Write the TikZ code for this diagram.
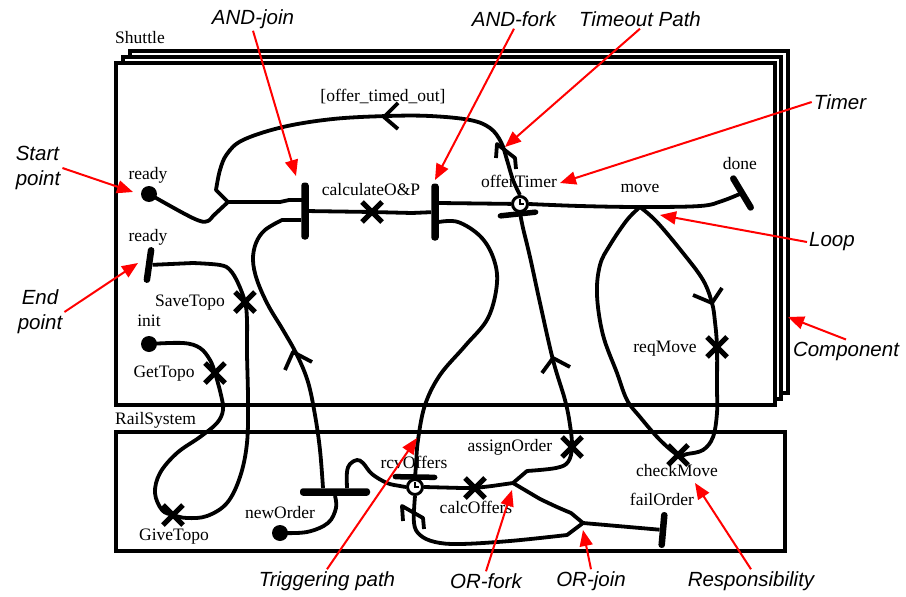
\documentclass[tikz,border=0pt]{standalone}
\usepackage{fontspec}
\setmainfont{Liberation Serif}
\newfontfamily\notefont{Liberation Sans}
\usetikzlibrary{arrows.meta,shapes.misc,positioning}

\begin{document}
\begin{tikzpicture}[x=1pt,y=-1pt,
    comp/.style={draw,line width=3.4pt,fill=white},
    ucm/.style={line width=3.8pt,line join=round},
    bar/.style={fill,inner sep=0pt,rounded corners=3pt},
    resp/.style={draw,cross out,line width=5pt,minimum size=15pt,inner sep=0pt},
    startpt/.style={circle,fill,minimum size=16pt,inner sep=0pt},
    timer/.style={circle,draw,fill=white,line width=3pt,minimum size=15pt,inner sep=0pt},
    lbl/.style={font=\fontsize{17.5}{20}\selectfont,inner sep=1pt,text height=12pt,text depth=4pt},
    note/.style={font=\notefont\itshape\fontsize{20.5}{25}\selectfont,inner sep=2pt},
    redarrow/.style={red,line width=2pt,-{Triangle[length=16pt,width=13pt]}}]
    \useasboundingbox (0,0) rectangle (906,597);

    % Components
    \draw[comp] (130,51) rectangle (788,393);
    \draw[comp] (123,57) rectangle (781,399);
    \draw[comp] (116,63) rectangle (775,405);
    \draw[comp] (116,432) rectangle (785,551);
    \node[lbl,anchor=west] (shuttle) at (114,39) {Shuttle};
    \node[lbl,anchor=west] (railsys) at (114,420) {RailSystem};

    % Start points, bars, timers, responsibilities
    \node[startpt] (ready1) at (149,194) {};
    \node[startpt] (init) at (149,344) {};
    \node[startpt] (neworder) at (280,533) {};
    \node[bar,minimum width=7.5pt,minimum height=57pt] (andJoin) at (305,211) {};
    \node[bar,minimum width=7.5pt,minimum height=57pt] (andFork) at (435,212) {};
    \node[bar,minimum width=70pt,minimum height=7.5pt] (trigFork) at (335,492) {};
    \node[bar,minimum width=6.5pt,minimum height=36pt,rotate=-8] (endReady) at (149,265) {};
    \node[bar,minimum width=6.5pt,minimum height=40pt,rotate=31] (endDone) at (742,193) {};
    \node[bar,minimum width=6.5pt,minimum height=36pt,rotate=-5] (endFail) at (663,530) {};
    \node[bar,minimum width=41pt,minimum height=5.5pt,rotate=6] (offerBar) at (518,214) {};
    \node[bar,minimum width=45pt,minimum height=5.5pt,rotate=-1] (rcvBar) at (415,477) {};
    \node[timer] (offerTimer) at (520,204) {};
    \node[timer] (rcvOffers) at (415,487) {};
    \node[resp] (calcOP) at (372,212) {};
    \node[resp] (saveTopo) at (245,302) {};
    \node[resp] (getTopo) at (215,373) {};
    \node[resp] (giveTopo) at (173,515) {};
    \node[resp] (reqMove) at (717,347) {};
    \node[resp] (checkMove) at (678,455) {};
    \node[resp] (assignOrder) at (572,447) {};
    \node[resp] (calcOffers) at (475,488) {};
    \coordinate (j1) at (228,202);
    \coordinate (move) at (640,207);
    \coordinate (orFork) at (513,483);
    \coordinate (orJoin) at (583,523);

    % Shuttle paths
    \draw[ucm] plot[smooth,tension=.6] coordinates {(ready1.center) (183,213) (200,221) (208,221) (213,216)} -- (j1);
    \draw[ucm] plot[smooth,tension=.6] coordinates {(offerTimer.north) (513,180) (507,160) (501,142) (490,128) (470,120) (430,116) (387,116) (333,119) (283,127) (243,140) (227,154) (220,170) (216,190)} -- (j1);
    \draw[ucm] (j1) -- (280,202) -- (289,200) -- ([yshift=11pt]andJoin.east);
    \draw[ucm] (andJoin) -- (calcOP.center) -- (412,213) -- (andFork);
    \draw[ucm] ([yshift=9pt]andFork.east) -- (offerTimer);
    \draw[ucm] plot[smooth,tension=.6] coordinates {(offerTimer.east) (580,206) (move) (700,206) (722,201) (endDone.center)};
    \draw[ucm] plot[smooth,tension=.6] coordinates {([yshift=-10pt]andFork.east) (458,222) (480,236) (493,257) (497,283) (488,318) (465,346) (440,375) (425,405) (418,440) (416,465) (rcvOffers.north)};
    \draw[ucm] plot[smooth,tension=.6] coordinates {(move) (657,222) (683,253) (703,280) (712,303) (715,322) (reqMove.center) (717,387) (717,413) (713,437) (703,450) (687,454) (checkMove.center) (660,440) (640,417) (627,400) (617,373) (603,335) (597,295) (600,265) (610,245) (627,220) (move)};
    \draw[ucm] plot[smooth,tension=.6] coordinates {(init.center) (183,343) (200,348) (210,360) (getTopo.center) (221,395) (223,410) (217,423) (200,437) (177,453) (160,473) (155,493) (162,510) (giveTopo.center) (187,518) (207,516) (227,503) (240,477) (247,443) (248,400) (247,353) (247,320) (saveTopo.center) (238,283) (230,270) (220,265) (193,263)} -- (endReady);

    % Triggering paths
    \draw[ucm] plot[smooth,tension=.6] coordinates {(neworder.center) (307,532) (328,523) (336,508) (trigFork.south)};
    \draw[ucm] plot[smooth,tension=.6] coordinates {([xshift=-12pt]trigFork.north) (320,450) (315,415) (308,382) (297,355) (283,330) (268,305) (257,280) (253,260) (256,243) (265,230) (282,220)} -- ([yshift=-9pt]andJoin.west);
    \draw[ucm] plot[smooth,tension=.6] coordinates {([xshift=12pt]trigFork.north) (347,472) (350,464) (357,460) (363,463) (372,474) (387,483) (400,486) (rcvOffers.west)};

    % RailSystem paths
    \draw[ucm] (rcvOffers.east) -- (462,488) -- (calcOffers.center) -- (492,486) -- (orFork);
    \draw[ucm] (orFork) -- (527,471) -- plot[smooth,tension=.6] coordinates {(527,471) (556,468) (568,462) (assignOrder.center) (570,425) (565,400) (553,360) (540,303) (530,257) (523,228) (offerTimer.south)};
    \draw[ucm] (orFork) -- (540,499) -- plot[smooth,tension=.6] coordinates {(540,499) (557,507) (571,513)} -- (orJoin);
    \draw[ucm] plot[smooth,tension=.6] coordinates {(rcvOffers.south) (414,523) (420,535) (435,542) (460,544) (510,541) (567,535)} -- (orJoin);
    \draw[ucm] (orJoin) -- (endFail);

    % Clock hands and timeout zigzags
    \draw[line width=1.6pt] (offerTimer.center) ++(0,-5) -- ++(0,5) -- ++(4,0);
    \draw[line width=1.6pt] (rcvOffers.center) ++(0,-5) -- ++(0,5) -- ++(4,0);
    \draw[ucm] (496,158) -- (497,144) -- (515,158) -- (516,169);
    \draw[ucm] (403,521) -- (402,506) -- (423,518) -- (424,529);

    % Direction arrows
    \draw[ucm] (398,103) -- (384,117) -- (398,129);
    \draw[ucm] (285,370) -- (293,352) -- (312,362);
    \draw[ucm] (542,373) -- (553,358) -- (570,367);
    \draw[ucm] (693,295) -- (712,303) -- (722,288);

    % Labels
    \node[lbl] (ready1lbl) at (148,175) {ready};
    \node[lbl] (ready2lbl) at (148,237) {ready};
    \node[lbl] (saveTopolbl) at (190,302) {SaveTopo};
    \node[lbl] (initlbl) at (149,322) {init};
    \node[lbl] (getTopolbl) at (164,373) {GetTopo};
    \node[lbl] (giveTopolbl) at (174,536) {GiveTopo};
    \node[lbl] (newOrderlbl) at (280,514) {newOrder};
    \node[lbl] (rcvOfferslbl) at (414,464) {rcvOffers};
    \node[lbl] (calcOfferslbl) at (476,509) {calcOffers};
    \node[lbl] (assignOrderlbl) at (510,447) {assignOrder};
    \node[lbl] (failOrderlbl) at (662,501) {failOrder};
    \node[lbl] (checkMovelbl) at (677,472) {checkMove};
    \node[lbl] (reqMovelbl) at (665,348) {reqMove};
    \node[lbl] (movelbl) at (640,188) {move};
    \node[lbl] (donelbl) at (740,165) {done};
    \node[lbl] (offerTimerlbl) at (519,183) {offerTimer};
    \node[lbl] (calcOPlbl) at (371,191) {calculateO\&P};
    \node[lbl] (timedoutlbl) at (383,97) {[offer\_timed\_out]};

    % Annotations
    \node[note] (andjoinlbl) at (253,19) {AND-join};
    \node[note] (andforklbl) at (514,19) {AND-fork};
    \node[note] (timeoutlbl) at (640,19) {Timeout Path};
    \node[note] (timerlbl) at (840,102) {Timer};
    \node[note] (looplbl) at (832,242) {Loop};
    \node[note] (componentlbl) at (846,351) {Component};
    \node[note,align=left] (startlbl) at (38,168) {Start\\point};
    \node[note,align=center] (endlbl) at (40,312) {End\\point};
    \node[note] (triglbl) at (327,581) {Triggering path};
    \node[note] (orforklbl) at (486,581) {OR-fork};
    \node[note] (orjoinlbl) at (591,581) {OR-join};
    \node[note] (resplbl) at (751,581) {Responsibility};

    \draw[redarrow] (andjoinlbl.south) -- (296,176);
    \draw[redarrow] (andforklbl.south) -- (435,180);
    \draw[redarrow] (timeoutlbl.south) -- (505,147);
    \draw[redarrow] (timerlbl.west) -- (560,183);
    \draw[redarrow] (looplbl.west) -- (660,215);
    \draw[redarrow] (componentlbl.north) -- (788,317);
    \draw[redarrow] (startlbl.east) -- (133,192);
    \draw[redarrow] (endlbl.east) -- (138,263);
    \draw[redarrow] (triglbl.north) -- (417,438);
    \draw[redarrow] (orforklbl.north) -- (512,490);
    \draw[redarrow] (orjoinlbl.north) -- (583,530);
    \draw[redarrow] (resplbl.north) -- (695,483);
\end{tikzpicture}
\end{document}
